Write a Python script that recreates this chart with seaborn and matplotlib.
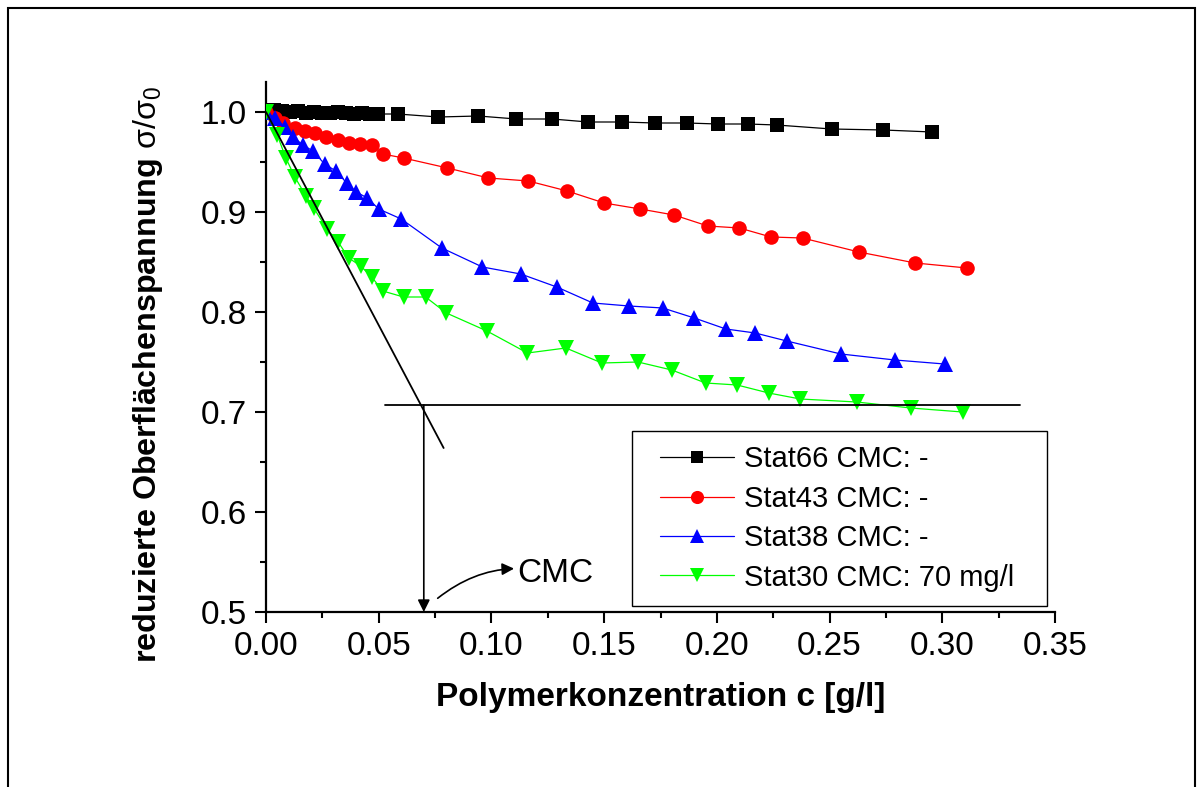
import matplotlib
matplotlib.use("Agg")
import matplotlib.pyplot as plt
from matplotlib.patches import Rectangle
from matplotlib.lines import Line2D
from matplotlib.legend_handler import HandlerLine2D
from matplotlib.ticker import MultipleLocator, FormatStrFormatter
import pandas as pd
import seaborn as sns

# Polymer concentration c [g/l] and reduced surface tension sigma/sigma0
stat66_c = [0.000, 0.0035, 0.0071, 0.0106, 0.0142, 0.0177, 0.0212, 0.0248, 0.0283,
            0.0319, 0.0354, 0.0389, 0.0425, 0.0460, 0.0496, 0.0584, 0.0765, 0.0942,
            0.1111, 0.1270, 0.1429, 0.1580, 0.1726, 0.1867, 0.2004, 0.2137, 0.2265,
            0.2509, 0.2739, 0.2956]
stat66_s = [1.000, 1.002, 1.001, 1.000, 1.001, 0.999, 1.000, 0.999, 0.999,
            1.000, 0.999, 0.998, 0.999, 0.998, 0.998, 0.998, 0.995, 0.996,
            0.993, 0.993, 0.990, 0.990, 0.989, 0.989, 0.988, 0.988, 0.987,
            0.983, 0.982, 0.980]

stat43_c = [0.000, 0.004, 0.0075, 0.0128, 0.0173, 0.0217, 0.0265, 0.0319, 0.0367,
            0.0416, 0.0469, 0.0518, 0.061, 0.0805, 0.0987, 0.1164, 0.1336, 0.150,
            0.166, 0.181, 0.196, 0.210, 0.224, 0.238, 0.263, 0.288, 0.311]
stat43_s = [1.000, 0.994, 0.989, 0.984, 0.981, 0.979, 0.975, 0.972, 0.969,
            0.968, 0.967, 0.958, 0.954, 0.944, 0.934, 0.931, 0.921, 0.909,
            0.903, 0.897, 0.886, 0.884, 0.875, 0.874, 0.860, 0.849, 0.844]

stat38_c = [0.000, 0.004, 0.0084, 0.012, 0.0164, 0.0208, 0.026, 0.031, 0.0358,
            0.040, 0.045, 0.050, 0.060, 0.078, 0.096, 0.113, 0.129, 0.145,
            0.161, 0.176, 0.190, 0.204, 0.217, 0.231, 0.255, 0.279, 0.301]
stat38_s = [1.000, 0.994, 0.985, 0.975, 0.967, 0.961, 0.948, 0.941, 0.929,
            0.920, 0.914, 0.903, 0.893, 0.864, 0.845, 0.838, 0.825, 0.809,
            0.806, 0.804, 0.794, 0.783, 0.779, 0.771, 0.758, 0.752, 0.748]

stat30_c = [0.000, 0.005, 0.0088, 0.0128, 0.0177, 0.0212, 0.027, 0.032, 0.0367,
            0.042, 0.0469, 0.0518, 0.061, 0.0708, 0.080, 0.098, 0.116, 0.133,
            0.149, 0.165, 0.180, 0.195, 0.209, 0.223, 0.237, 0.262, 0.286, 0.309]
stat30_s = [1.000, 0.977, 0.954, 0.935, 0.916, 0.904, 0.883, 0.870, 0.854,
            0.846, 0.835, 0.821, 0.815, 0.815, 0.799, 0.781, 0.759, 0.764,
            0.749, 0.750, 0.742, 0.729, 0.727, 0.719, 0.713, 0.710, 0.704, 0.700]

series_labels = ["Stat66 CMC: -", "Stat43 CMC: -", "Stat38 CMC: -", "Stat30 CMC: 70 mg/l"]

# CMC construction for Stat30: initial slope and plateau level
tangent_c = [0.000, 0.0788]
tangent_s = [1.000, 0.664]
plateau_c = [0.0527, 0.3345]
plateau_s = [0.707, 0.707]
cmc_c = 0.070


class IndentedLineHandler(HandlerLine2D):
    """Legend line handle that starts a little inside the legend frame."""

    def __init__(self, indent=0.45, **kw):
        super().__init__(**kw)
        self.indent = indent

    def create_artists(self, legend, orig_handle, xdescent, ydescent, width,
                       height, fontsize, trans):
        shift = self.indent * fontsize
        return super().create_artists(legend, orig_handle, xdescent - shift,
                                      ydescent, width - shift, height,
                                      fontsize, trans)


sns.set_theme(style="ticks")
plt.rcParams["font.family"] = ["Liberation Sans", "DejaVu Sans"]
plt.rcParams["mathtext.fontset"] = "custom"
plt.rcParams["mathtext.rm"] = "Liberation Sans"
plt.rcParams["mathtext.it"] = "Liberation Sans"
for key in ("text.color", "axes.labelcolor", "xtick.color", "ytick.color",
            "xtick.labelcolor", "ytick.labelcolor", "axes.edgecolor"):
    plt.rcParams[key] = "black"

fig = plt.figure(figsize=(12.04, 7.87), dpi=100)
ax = fig.add_axes([266 / 1204, 1 - 612 / 787, (1055 - 266) / 1204, (612 - 82) / 787])
ax.set_facecolor("white")

styles = [
    (stat66_c, stat66_s, "s", "#000000", 10.0),
    (stat43_c, stat43_s, "o", "#ff0000", 10.5),
    (stat38_c, stat38_s, "^", "#0000ff", 11.5),
    (stat30_c, stat30_s, "v", "#00ff00", 11.5),
]
for (c, s, m, col, ms), lab in zip(styles, series_labels):
    df = pd.DataFrame({"c": c, "s": s})
    sns.lineplot(data=df, x="c", y="s", ax=ax, color=col, marker=m, markersize=ms,
                 markeredgewidth=0, linewidth=0.9, sort=False, estimator=None,
                 label=lab, zorder=3)

# Tangent and plateau lines
ax.plot(tangent_c, tangent_s, color="black", linewidth=1.3, zorder=5)
ax.plot(plateau_c, plateau_s, color="black", linewidth=1.3, zorder=5)

# Arrow down to the CMC on the concentration axis
ax.annotate("", xy=(cmc_c, 0.5), xytext=(cmc_c, plateau_s[0]),
            arrowprops=dict(arrowstyle="-|>", color="black", lw=1.2,
                            mutation_scale=18, shrinkA=0, shrinkB=0),
            zorder=6)
ax.annotate("CMC", xy=(0.0752, 0.512), xytext=(0.1115, 0.539),
            fontsize=24, va="center", ha="left", color="black",
            arrowprops=dict(arrowstyle="<|-", color="black", lw=1.2,
                            mutation_scale=18, shrinkA=0, shrinkB=2,
                            connectionstyle="arc3,rad=0.25"))

ax.set_xlim(0, 0.35)
ax.set_ylim(0.5, 1.03)
ax.xaxis.set_major_locator(MultipleLocator(0.05))
ax.xaxis.set_minor_locator(MultipleLocator(0.025))
ax.yaxis.set_major_locator(MultipleLocator(0.1))
ax.yaxis.set_minor_locator(MultipleLocator(0.05))
ax.xaxis.set_major_formatter(FormatStrFormatter("%.2f"))
ax.yaxis.set_major_formatter(FormatStrFormatter("%.1f"))
ax.tick_params(which="major", direction="out", length=8, width=1.5, labelsize=24,
               pad=6, colors="black")
ax.tick_params(which="minor", direction="out", length=4.5, width=1.5, colors="black")

sns.despine(ax=ax)
for side in ("left", "bottom"):
    ax.spines[side].set_linewidth(1.6)
    ax.spines[side].set_color("black")

ax.set_xlabel("Polymerkonzentration c [g/l]", fontsize=24, fontweight="bold",
              labelpad=14, color="black")
ax.set_ylabel(r"reduzierte Oberflächenspannung $\sigma/\sigma_0$", fontsize=23.2,
              fontweight="bold", color="black")
ax.yaxis.set_label_coords(-0.128, 0.447)

handles, labels = ax.get_legend_handles_labels()
leg = ax.legend(handles, labels, loc="lower left",
                bbox_to_anchor=(0.464, 0.011, 0.526, 0.329), mode="expand",
                borderaxespad=0, fontsize=21, frameon=True, fancybox=False,
                framealpha=1, edgecolor="black", handlelength=3.0,
                handletextpad=0.35, labelspacing=0.39, borderpad=0.5,
                markerscale=0.9, handler_map={Line2D: IndentedLineHandler(0.45)})
leg.get_frame().set_linewidth(1.0)
for t in leg.get_texts():
    t.set_color("black")

# Outer frame around the figure
fig.add_artist(Rectangle((8 / 1204, -0.05), (1195 - 8) / 1204, 1.05 - 8 / 787,
                         transform=fig.transFigure, fill=False,
                         edgecolor="black", linewidth=1.5))

fig.savefig("out.png", dpi=100, facecolor="white")
